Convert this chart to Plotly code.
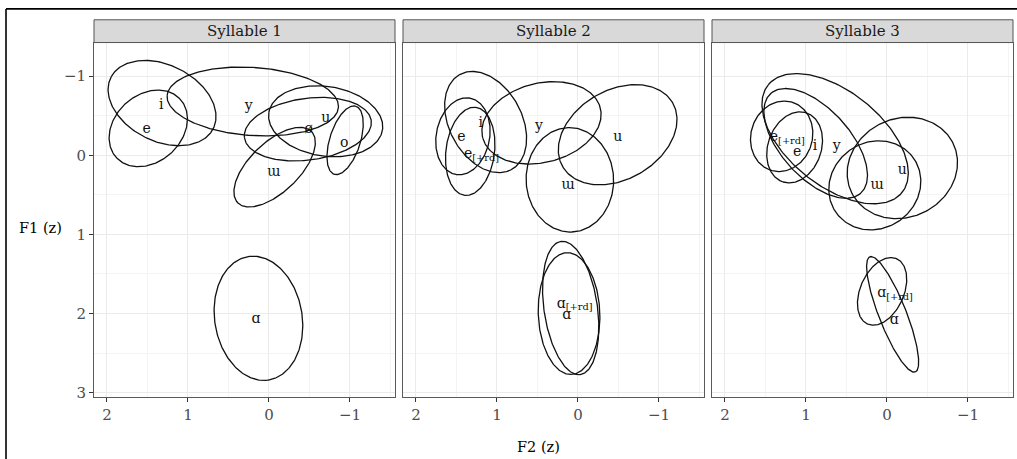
import numpy as np
import plotly.graph_objects as go

# ---------------- data ----------------
facets = ["Syllable 1", "Syllable 2", "Syllable 3"]

# Syllable 1
s1_vowel = ["e", "i", "y", "ø", "u", "o", "ɯ", "ɑ"]
s1_cx = [1.49, 1.32, 0.20, -0.48, -0.70, -0.94, -0.07, 0.13]
s1_cy = [-0.34, -0.66, -0.68, -0.33, -0.43, -0.19, 0.15, 2.06]
s1_a = [0.54, 0.71, 1.06, 0.79, 0.71, 0.45, 0.64, 0.79]
s1_b = [0.42, 0.48, 0.43, 0.39, 0.44, 0.19, 0.31, 0.54]
s1_ang = [45, -28, -4, 8, -9, 73, 45, 99]
s1_lx = [1.51, 1.33, 0.25, -0.49, -0.70, -0.93, -0.06, 0.16]
s1_ly = [-0.33, -0.63, -0.62, -0.33, -0.46, -0.15, 0.22, 2.07]

# Syllable 2
s2_vowel = ["e", "i", "e<sub>[+rd]</sub>", "y", "u", "ɯ", "ɑ<sub>[+rd]</sub>", "ɑ"]
s2_cx = [1.42, 1.14, 1.33, 0.45, -0.49, 0.10, 0.09, 0.11]
s2_cy = [-0.24, -0.42, -0.05, -0.41, -0.26, 0.31, 1.93, 2.00]
s2_a = [0.49, 0.68, 0.56, 0.75, 0.79, 0.66, 0.85, 0.77]
s2_b = [0.33, 0.45, 0.30, 0.50, 0.56, 0.54, 0.33, 0.38]
s2_ang = [80, 117, 83, 15, 32, 92, 98, 92]
s2_lx = [1.44, 1.20, 1.19, 0.48, -0.49, 0.12, 0.04, 0.14]
s2_ly = [-0.22, -0.40, -0.01, -0.37, -0.22, 0.38, 1.88, 2.03]

# Syllable 3
s3_vowel = ["e<sub>[+rd]</sub>", "e", "i", "y", "ɯ", "u", "ɑ<sub>[+rd]</sub>", "ɑ"]
s3_cx = [1.30, 1.14, 0.88, 0.64, 0.15, -0.19, 0.06, -0.07]
s3_cy = [-0.24, -0.10, -0.15, -0.21, 0.38, 0.16, 1.72, 2.01]
s3_a = [0.45, 0.46, 0.84, 1.07, 0.59, 0.70, 0.45, 0.78]
s3_b = [0.38, 0.33, 0.43, 0.59, 0.54, 0.62, 0.27, 0.17]
s3_ang = [75, 72, -49, -40, 42, 30, 67, 111]
s3_lx = [1.23, 1.11, 0.89, 0.62, 0.12, -0.19, -0.10, -0.09]
s3_ly = [-0.22, -0.03, -0.11, -0.11, 0.38, 0.19, 1.75, 2.09]

x_ticks = [2, 1, 0, -1]
y_ticks = [-1, 0, 1, 2, 3]
x_range = [2.16, -1.556]
y_range = [3.05, -1.425]

panels = [
    (s1_vowel, s1_cx, s1_cy, s1_a, s1_b, s1_ang, s1_lx, s1_ly),
    (s2_vowel, s2_cx, s2_cy, s2_a, s2_b, s2_ang, s2_lx, s2_ly),
    (s3_vowel, s3_cx, s3_cy, s3_a, s3_b, s3_ang, s3_lx, s3_ly),
]

# ---------------- layout geometry (pixels) ----------------
W, H = 1017, 459
FONT = "DejaVu Serif"
panel_left = [94, 403, 712]
panel_w = 301
p_top, p_bot, strip_top = 43, 401, 20


def fx(x):
    return x / W


def fy(y):
    return 1 - y / H


fig = go.Figure()
t = np.linspace(0, 2 * np.pi, 241)

for k, (vow, cx, cy, a, b, ang, lx, ly) in enumerate(panels):
    xa = "x" if k == 0 else f"x{k+1}"
    ya = "y" if k == 0 else f"y{k+1}"
    for i in range(len(vow)):
        th = np.deg2rad(ang[i])
        ex = cx[i] + a[i] * np.cos(th) * np.cos(t) - b[i] * np.sin(th) * np.sin(t)
        ey = cy[i] + a[i] * np.sin(th) * np.cos(t) + b[i] * np.cos(th) * np.sin(t)
        fig.add_trace(go.Scatter(x=ex, y=ey, mode="lines", xaxis=xa, yaxis=ya,
                                 line=dict(color="#111111", width=1.3),
                                 hoverinfo="skip", showlegend=False))
    fig.add_trace(go.Scatter(x=lx, y=ly, text=vow, mode="text", xaxis=xa, yaxis=ya,
                             textfont=dict(family=FONT, size=14, color="#111111"),
                             textposition="middle center",
                             hoverinfo="skip", showlegend=False))

axis_common = dict(
    showgrid=True, gridcolor="#EBEBEB", gridwidth=1.1,
    zeroline=False, showline=True, mirror=True, linecolor="#5a5a5a", linewidth=1,
    ticks="outside", ticklen=4, tickcolor="#333333", tickwidth=1,
    tickfont=dict(family=FONT, size=15, color="#4D4D4D"),
    minor=dict(dtick=0.5, tick0=0, showgrid=True, gridcolor="#F4F4F4", gridwidth=0.7, ticks=""),
)

layout = dict(width=W, height=H, margin=dict(l=0, r=0, t=0, b=0),
              paper_bgcolor="white", plot_bgcolor="white", showlegend=False)

shapes = []
annotations = []
for k in range(3):
    sfx = "" if k == 0 else str(k + 1)
    x0, x1 = fx(panel_left[k]), fx(panel_left[k] + panel_w)
    layout["xaxis" + sfx] = dict(axis_common, domain=[x0, x1], range=x_range,
                                 tickvals=x_ticks, ticktext=[str(v).replace("-", "−") for v in x_ticks],
                                 anchor="y" + sfx)
    ydict = dict(axis_common, domain=[fy(p_bot), fy(p_top)], range=y_range,
                 tickvals=y_ticks, ticktext=[str(v).replace("-", "−") for v in y_ticks],
                 anchor="x" + sfx)
    if k > 0:
        ydict["showticklabels"] = False
        ydict["ticks"] = ""
    layout["yaxis" + sfx] = ydict
    # strip
    shapes.append(dict(type="rect", xref="paper", yref="paper", x0=x0, x1=x1,
                       y0=fy(p_top), y1=fy(strip_top), fillcolor="#D9D9D9",
                       line=dict(color="#555555", width=1), layer="above"))
    annotations.append(dict(text=facets[k], xref="paper", yref="paper",
                            x=(x0 + x1) / 2, y=fy((p_top + strip_top) / 2),
                            showarrow=False, xanchor="center", yanchor="middle",
                            font=dict(family=FONT, size=15, color="#1A1A1A")))

# outer frame (left and top edges)
shapes.append(dict(type="line", xref="paper", yref="paper", x0=fx(6), x1=fx(6),
                   y0=-0.05, y1=fy(9), line=dict(color="black", width=1.6)))
shapes.append(dict(type="line", xref="paper", yref="paper", x0=fx(6), x1=1.05,
                   y0=fy(9), y1=fy(9), line=dict(color="black", width=1.6)))

annotations.append(dict(text="F2 (z)", xref="paper", yref="paper", x=fx(538), y=fy(452),
                        showarrow=False, xanchor="center", yanchor="middle",
                        font=dict(family=FONT, size=14.5, color="black")))
annotations.append(dict(text="F1 (z)", xref="paper", yref="paper", x=fx(40), y=fy(231),
                        showarrow=False, xanchor="center", yanchor="middle",
                        font=dict(family=FONT, size=14.5, color="black")))

layout["shapes"] = shapes
layout["annotations"] = annotations
fig.update_layout(**layout)
fig.write_html("out.html", config={"displayModeBar": False},
               post_script="document.body.style.margin='0';document.body.style.overflow='hidden';")
